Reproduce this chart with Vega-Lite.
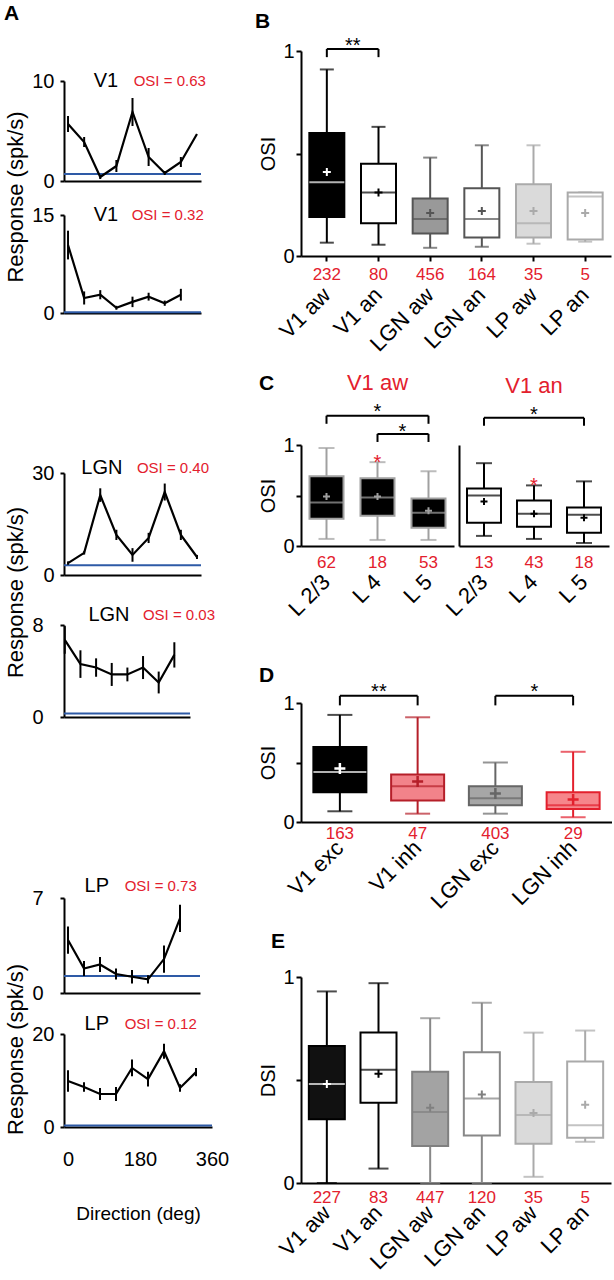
{
"$schema": "https://vega.github.io/schema/vega-lite/v6.json",
"padding": {"left": 4, "top": 2, "right": 0, "bottom": 0},
"config": {
  "font": "Liberation Sans",
  "view": {"stroke": null},
  "axis": {"grid": false, "domainColor": "#000000", "tickColor": "#000000", "labelColor": "#000000", "titleColor": "#000000", "domainWidth": 2, "tickWidth": 2, "titleFontWeight": "normal", "labelFont": "Liberation Sans", "titleFont": "Liberation Sans", "labelOverlap": false},
  "title": {"font": "Liberation Sans", "color": "#000000"},
  "text": {"font": "Liberation Sans"}
},
"datasets": {
  "v1a": [{"dir":0,"resp":5.7,"err":0.8},{"dir":40,"resp":3.9,"err":0.5},{"dir":80,"resp":0.4,"err":0.2},{"dir":120,"resp":1.5,"err":0.6},{"dir":160,"resp":6.9,"err":1.4},{"dir":200,"resp":2.4,"err":0.9},{"dir":240,"resp":0.8,"err":0.2},{"dir":280,"resp":1.9,"err":0.5},{"dir":320,"resp":4.7,"err":0}],
  "v1b": [{"dir":0,"resp":10.4,"err":2.2},{"dir":40,"resp":2.3,"err":1.0},{"dir":80,"resp":2.8,"err":0.7},{"dir":120,"resp":0.8,"err":0.3},{"dir":160,"resp":1.7,"err":0.8},{"dir":200,"resp":2.5,"err":0.6},{"dir":240,"resp":1.5,"err":0.4},{"dir":280,"resp":2.8,"err":0.9}],
  "lgna": [{"dir":0,"resp":3.5,"err":0.5},{"dir":40,"resp":6.5,"err":0.5},{"dir":80,"resp":23.5,"err":2.0},{"dir":120,"resp":11.8,"err":1.5},{"dir":160,"resp":5.9,"err":2.0},{"dir":200,"resp":10.9,"err":1.5},{"dir":240,"resp":24.4,"err":2.5},{"dir":280,"resp":11.8,"err":1.5},{"dir":320,"resp":5.3,"err":0.6}],
  "lgnb": [{"dir":0,"resp":6.7,"err":1.2},{"dir":40,"resp":4.6,"err":1.2},{"dir":80,"resp":4.3,"err":0.8},{"dir":120,"resp":3.7,"err":1.0},{"dir":160,"resp":3.7,"err":0.6},{"dir":200,"resp":4.3,"err":1.0},{"dir":240,"resp":3.0,"err":0.95},{"dir":280,"resp":5.4,"err":1.1}],
  "lpa": [{"dir":0,"resp":3.9,"err":1.0},{"dir":40,"resp":1.8,"err":0.55},{"dir":80,"resp":2.1,"err":0.55},{"dir":120,"resp":1.4,"err":0.4},{"dir":160,"resp":1.2,"err":0.5},{"dir":200,"resp":1.0,"err":0.3},{"dir":240,"resp":2.5,"err":1.0},{"dir":280,"resp":5.5,"err":1.0}],
  "lpb": [{"dir":0,"resp":9.9,"err":2.3},{"dir":40,"resp":8.6,"err":1.0},{"dir":80,"resp":7.1,"err":1.3},{"dir":120,"resp":7.1,"err":1.5},{"dir":160,"resp":12.7,"err":1.8},{"dir":200,"resp":10.3,"err":1.6},{"dir":240,"resp":16.3,"err":1.6},{"dir":280,"resp":8.4,"err":0.8},{"dir":320,"resp":11.8,"err":0.9}],
  "boxB": [
    {"g":"V1 aw","n":232,"lo":0.065,"q1":0.19,"med":0.36,"q3":0.60,"hi":0.91,"mean":0.41},
    {"g":"V1 an","n":80,"lo":0.055,"q1":0.16,"med":0.31,"q3":0.45,"hi":0.63,"mean":0.31},
    {"g":"LGN aw","n":456,"lo":0.04,"q1":0.11,"med":0.18,"q3":0.28,"hi":0.48,"mean":0.21},
    {"g":"LGN an","n":164,"lo":0.045,"q1":0.09,"med":0.18,"q3":0.33,"hi":0.54,"mean":0.22},
    {"g":"LP aw","n":35,"lo":0.06,"q1":0.09,"med":0.16,"q3":0.35,"hi":0.54,"mean":0.22},
    {"g":"LP an","n":5,"lo":0.07,"q1":0.08,"med":0.29,"q3":0.31,"hi":0.31,"mean":0.21}
  ],
  "boxC1": [
    {"g":"L 2/3","n":62,"lo":0.07,"q1":0.27,"med":0.43,"q3":0.69,"hi":0.97,"mean":0.49,"sig":""},
    {"g":"L 4","n":18,"lo":0.06,"q1":0.30,"med":0.48,"q3":0.67,"hi":0.83,"mean":0.49,"sig":"*"},
    {"g":"L 5","n":53,"lo":0.06,"q1":0.18,"med":0.33,"q3":0.47,"hi":0.74,"mean":0.35,"sig":""}
  ],
  "boxC2": [
    {"g":"L 2/3","n":13,"lo":0.10,"q1":0.23,"med":0.50,"q3":0.57,"hi":0.82,"mean":0.44,"sig":""},
    {"g":"L 4","n":43,"lo":0.07,"q1":0.19,"med":0.32,"q3":0.45,"hi":0.60,"mean":0.32,"sig":"*"},
    {"g":"L 5","n":18,"lo":0.03,"q1":0.13,"med":0.31,"q3":0.38,"hi":0.64,"mean":0.28,"sig":""}
  ],
  "boxD": [
    {"g":"V1 exc","n":163,"lo":0.09,"q1":0.25,"med":0.42,"q3":0.63,"hi":0.90,"mean":0.45},
    {"g":"V1 inh","n":47,"lo":0.07,"q1":0.18,"med":0.30,"q3":0.40,"hi":0.88,"mean":0.34},
    {"g":"LGN exc","n":403,"lo":0.07,"q1":0.14,"med":0.20,"q3":0.30,"hi":0.50,"mean":0.24},
    {"g":"LGN inh","n":29,"lo":0.04,"q1":0.11,"med":0.14,"q3":0.25,"hi":0.59,"mean":0.19}
  ],
  "boxE": [
    {"g":"V1 aw","n":227,"lo":0,"q1":0.31,"med":0.48,"q3":0.665,"hi":0.93,"mean":0.48},
    {"g":"V1 an","n":83,"lo":0.07,"q1":0.39,"med":0.55,"q3":0.73,"hi":0.97,"mean":0.53},
    {"g":"LGN aw","n":447,"lo":0,"q1":0.18,"med":0.345,"q3":0.54,"hi":0.80,"mean":0.365},
    {"g":"LGN an","n":120,"lo":0,"q1":0.23,"med":0.41,"q3":0.635,"hi":0.875,"mean":0.43},
    {"g":"LP aw","n":35,"lo":0.03,"q1":0.19,"med":0.33,"q3":0.49,"hi":0.73,"mean":0.34},
    {"g":"LP an","n":5,"lo":0.20,"q1":0.22,"med":0.28,"q3":0.59,"hi":0.74,"mean":0.38}
  ]
},
"spacing": 25,
"hconcat": [
{
  "spacing": 16,
  "vconcat": [
  {
    "width": 137, "height": 1,
    "title": {"text": "A", "anchor": "start", "fontSize": 21, "fontWeight": "bold", "offset": 25, "dx": -60},
    "data": {"values": [{"v": 0}]},
    "mark": {"type": "point", "opacity": 0},
    "encoding": {}
  },
  {
  "spacing": 134,
  "vconcat": [
  {
    "title": {"text": "Response (spk/s)", "orient": "left", "anchor": "middle", "fontSize": 22, "fontWeight": "normal", "offset": 4},
    "spacing": 14,
    "vconcat": [
    {
      "width": 137, "height": 100,
      "layer": [
        {"data": {"values": [{"base": 0.7}]}, "mark": {"type": "rule", "color": "#2e5aa6", "strokeWidth": 2}, "encoding": {"y": {"field": "base", "type": "quantitative", "scale": {"domain": [0, 10], "nice": false}, "axis": {"values": [0, 10], "labelFontSize": 20, "tickSize": 4, "labelPadding": 6, "title": null}}}},
        {"data": {"name": "v1a"}, "mark": {"type": "line", "color": "#000000", "strokeWidth": 2.2}, "encoding": {"x": {"field": "dir", "type": "quantitative", "scale": {"domain": [-10, 330], "nice": false, "zero": false}, "axis": {"labels": false, "ticks": false, "title": null}}, "y": {"field": "resp", "type": "quantitative", "title": null}}},
        {"data": {"name": "v1a"}, "mark": {"type": "errorbar", "color": "#000000", "thickness": 2}, "encoding": {"x": {"field": "dir", "type": "quantitative", "title": null}, "y": {"field": "resp", "type": "quantitative", "title": null}, "yError": {"field": "err"}}},
        {"data": {"values": [{"t": "V1"}]}, "mark": {"type": "text", "fontSize": 20, "baseline": "middle"}, "encoding": {"x": {"datum": 94}, "y": {"datum": 10}, "text": {"field": "t", "type": "nominal"}}},
        {"data": {"values": [{"t": "OSI = 0.63"}]}, "mark": {"type": "text", "fontSize": 15, "align": "right", "baseline": "middle", "color": "#e3202d"}, "encoding": {"x": {"datum": 342}, "y": {"datum": 10}, "text": {"field": "t", "type": "nominal"}}}
      ]
    },
    {
      "width": 137, "height": 98,
      "layer": [
        {"data": {"values": [{"base": 0.1}]}, "mark": {"type": "rule", "color": "#2e5aa6", "strokeWidth": 2}, "encoding": {"y": {"field": "base", "type": "quantitative", "scale": {"domain": [0, 15], "nice": false}, "axis": {"values": [0, 15], "labelFontSize": 20, "tickSize": 4, "labelPadding": 6, "title": null}}}},
        {"data": {"name": "v1b"}, "mark": {"type": "line", "color": "#000000", "strokeWidth": 2.2}, "encoding": {"x": {"field": "dir", "type": "quantitative", "scale": {"domain": [-10, 330], "nice": false, "zero": false}, "axis": {"labels": false, "ticks": false, "title": null}}, "y": {"field": "resp", "type": "quantitative", "title": null}}},
        {"data": {"name": "v1b"}, "mark": {"type": "errorbar", "color": "#000000", "thickness": 2}, "encoding": {"x": {"field": "dir", "type": "quantitative", "title": null}, "y": {"field": "resp", "type": "quantitative", "title": null}, "yError": {"field": "err"}}},
        {"data": {"values": [{"t": "V1"}]}, "mark": {"type": "text", "fontSize": 20, "baseline": "middle"}, "encoding": {"x": {"datum": 94}, "y": {"datum": 15}, "text": {"field": "t", "type": "nominal"}}},
        {"data": {"values": [{"t": "OSI = 0.32"}]}, "mark": {"type": "text", "fontSize": 15, "align": "right", "baseline": "middle", "color": "#e3202d"}, "encoding": {"x": {"datum": 337}, "y": {"datum": 15}, "text": {"field": "t", "type": "nominal"}}}
      ]
    }
    ]
  },
  {
    "spacing": 148,
    "vconcat": [
    {
      "title": {"text": "Response (spk/s)", "orient": "left", "anchor": "middle", "fontSize": 22, "fontWeight": "normal", "offset": 4},
      "spacing": 19,
      "vconcat": [
      {
        "width": 137, "height": 102,
        "layer": [
          {"data": {"values": [{"base": 2.9}]}, "mark": {"type": "rule", "color": "#2e5aa6", "strokeWidth": 2}, "encoding": {"y": {"field": "base", "type": "quantitative", "scale": {"domain": [0, 30], "nice": false}, "axis": {"values": [0, 30], "labelFontSize": 20, "tickSize": 4, "labelPadding": 6, "title": null}}}},
          {"data": {"name": "lgna"}, "mark": {"type": "line", "color": "#000000", "strokeWidth": 2.2}, "encoding": {"x": {"field": "dir", "type": "quantitative", "scale": {"domain": [-10, 330], "nice": false, "zero": false}, "axis": {"labels": false, "ticks": false, "title": null}}, "y": {"field": "resp", "type": "quantitative", "title": null}}},
          {"data": {"name": "lgna"}, "mark": {"type": "errorbar", "color": "#000000", "thickness": 2}, "encoding": {"x": {"field": "dir", "type": "quantitative", "title": null}, "y": {"field": "resp", "type": "quantitative", "title": null}, "yError": {"field": "err"}}},
          {"data": {"values": [{"t": "LGN"}]}, "mark": {"type": "text", "fontSize": 20, "baseline": "middle"}, "encoding": {"x": {"datum": 84}, "y": {"datum": 31.5}, "text": {"field": "t", "type": "nominal"}}},
          {"data": {"values": [{"t": "OSI = 0.40"}]}, "mark": {"type": "text", "fontSize": 15, "align": "right", "baseline": "middle", "color": "#e3202d"}, "encoding": {"x": {"datum": 350}, "y": {"datum": 31.5}, "text": {"field": "t", "type": "nominal"}}}
        ]
      },
      {
        "width": 126, "height": 92,
        "layer": [
          {"data": {"values": [{"base": 0.3}]}, "mark": {"type": "rule", "color": "#2e5aa6", "strokeWidth": 2}, "encoding": {"y": {"field": "base", "type": "quantitative", "scale": {"domain": [0, 8], "nice": false}, "axis": {"values": [0, 8], "labelFontSize": 20, "tickSize": 4, "labelPadding": 17, "title": null}}}},
          {"data": {"name": "lgnb"}, "mark": {"type": "line", "color": "#000000", "strokeWidth": 2.2}, "encoding": {"x": {"field": "dir", "type": "quantitative", "scale": {"domain": [-2, 320], "nice": false, "zero": false}, "axis": {"labels": false, "ticks": false, "title": null}}, "y": {"field": "resp", "type": "quantitative", "title": null}}},
          {"data": {"name": "lgnb"}, "mark": {"type": "errorbar", "color": "#000000", "thickness": 2}, "encoding": {"x": {"field": "dir", "type": "quantitative", "title": null}, "y": {"field": "resp", "type": "quantitative", "title": null}, "yError": {"field": "err"}}},
          {"data": {"values": [{"t": "LGN"}]}, "mark": {"type": "text", "fontSize": 20, "baseline": "middle"}, "encoding": {"x": {"datum": 113}, "y": {"datum": 8.9}, "text": {"field": "t", "type": "nominal"}}},
          {"data": {"values": [{"t": "OSI = 0.03"}]}, "mark": {"type": "text", "fontSize": 15, "align": "right", "baseline": "middle", "color": "#e3202d"}, "encoding": {"x": {"datum": 384}, "y": {"datum": 8.9}, "text": {"field": "t", "type": "nominal"}}}
        ]
      }
      ]
    },
    {
      "title": {"text": "Response (spk/s)", "orient": "left", "anchor": "middle", "fontSize": 22, "fontWeight": "normal", "offset": 4},
      "spacing": 10,
      "vconcat": [
      {
        "width": 136, "height": 95,
        "layer": [
          {"data": {"values": [{"base": 1.25}]}, "mark": {"type": "rule", "color": "#2e5aa6", "strokeWidth": 2}, "encoding": {"y": {"field": "base", "type": "quantitative", "scale": {"domain": [0, 7], "nice": false}, "axis": {"values": [0, 7], "labelFontSize": 20, "tickSize": 4, "labelPadding": 17, "title": null}}}},
          {"data": {"name": "lpa"}, "mark": {"type": "line", "color": "#000000", "strokeWidth": 2.2}, "encoding": {"x": {"field": "dir", "type": "quantitative", "scale": {"domain": [-10, 330], "nice": false, "zero": false}, "axis": {"labels": false, "ticks": false, "title": null}}, "y": {"field": "resp", "type": "quantitative", "title": null}}},
          {"data": {"name": "lpa"}, "mark": {"type": "errorbar", "color": "#000000", "thickness": 2}, "encoding": {"x": {"field": "dir", "type": "quantitative", "title": null}, "y": {"field": "resp", "type": "quantitative", "title": null}, "yError": {"field": "err"}}},
          {"data": {"values": [{"t": "LP"}]}, "mark": {"type": "text", "fontSize": 20, "baseline": "middle"}, "encoding": {"x": {"datum": 72}, "y": {"datum": 7.9}, "text": {"field": "t", "type": "nominal"}}},
          {"data": {"values": [{"t": "OSI = 0.73"}]}, "mark": {"type": "text", "fontSize": 15, "align": "right", "baseline": "middle", "color": "#e3202d"}, "encoding": {"x": {"datum": 322}, "y": {"datum": 7.9}, "text": {"field": "t", "type": "nominal"}}}
        ]
      },
      {
        "width": 148, "height": 93,
        "layer": [
          {"data": {"values": [{"base": 0.3}]}, "mark": {"type": "rule", "color": "#2e5aa6", "strokeWidth": 2}, "encoding": {"y": {"field": "base", "type": "quantitative", "scale": {"domain": [0, 20], "nice": false}, "axis": {"values": [0, 20], "labelFontSize": 20, "tickSize": 4, "labelPadding": 6, "title": null}}}},
          {"data": {"name": "lpb"}, "mark": {"type": "line", "color": "#000000", "strokeWidth": 2.2}, "encoding": {"x": {"field": "dir", "type": "quantitative", "scale": {"domain": [-10, 360], "nice": false, "zero": false}, "axis": {"values": [0, 180, 360], "labelFontSize": 20, "ticks": false, "labelPadding": 22, "labelFlush": false, "title": "Direction (deg)", "titleFontSize": 19, "titlePadding": 35}}, "y": {"field": "resp", "type": "quantitative", "title": null}}},
          {"data": {"name": "lpb"}, "mark": {"type": "errorbar", "color": "#000000", "thickness": 2}, "encoding": {"x": {"field": "dir", "type": "quantitative"}, "y": {"field": "resp", "type": "quantitative", "title": null}, "yError": {"field": "err"}}},
          {"data": {"values": [{"t": "LP"}]}, "mark": {"type": "text", "fontSize": 20, "baseline": "middle"}, "encoding": {"x": {"datum": 72}, "y": {"datum": 22.2}, "text": {"field": "t", "type": "nominal"}}},
          {"data": {"values": [{"t": "OSI = 0.12"}]}, "mark": {"type": "text", "fontSize": 15, "align": "right", "baseline": "middle", "color": "#e3202d"}, "encoding": {"x": {"datum": 322}, "y": {"datum": 22.2}, "text": {"field": "t", "type": "nominal"}}}
        ]
      }
      ]
    }
    ]
  }
  ]
  }
  ]
},
{
  "spacing": 43,
  "vconcat": [
  {
    "spacing": 16,
    "vconcat": [
    {
      "width": 310, "height": 205,
      "title": {"text": "B", "anchor": "start", "fontSize": 21, "fontWeight": "bold", "offset": 4, "dx": -4},
      "data": {"name": "boxB"},
      "resolve": {"scale": {"color": "independent", "fill": "independent", "stroke": "independent"}},
      "encoding": {"x": {"field": "g", "type": "nominal", "title": null, "scale": {"type": "band", "domain": ["V1 aw","V1 an","LGN aw","LGN an","LP aw","LP an"], "paddingInner": 0, "paddingOuter": 0}, "axis": {"title": null, "labelAngle": -45, "labelAlign": "right", "labelBaseline": "middle", "labelFontSize": 22, "labelPadding": 30, "tickSize": 5}}},
      "layer": [
        {"mark": {"type": "rule", "strokeWidth": 2}, "encoding": {"y": {"field": "lo", "type": "quantitative", "scale": {"domain": [0, 1], "nice": false}, "axis": {"title": "OSI", "values": [0, 0.5, 1], "format": "~g", "labelExpr": "datum.value == 0.5 ? '' : datum.label", "labelFontSize": 20, "tickSize": 5, "titleFontSize": 20, "titlePadding": 4}}, "y2": {"field": "hi"}, "color": {"field": "g", "type": "nominal", "legend": null, "scale": {"domain": ["V1 aw","V1 an","LGN aw","LGN an","LP aw","LP an"], "range": ["#000000","#000000","#555555","#555555","#aaaaaa","#aaaaaa"]}}}},
        {"mark": {"type": "tick", "thickness": 2, "size": 14}, "encoding": {"y": {"field": "lo", "type": "quantitative"}, "color": {"field": "g", "type": "nominal", "legend": null, "scale": {"domain": ["V1 aw","V1 an","LGN aw","LGN an","LP aw","LP an"], "range": ["#000000","#000000","#555555","#555555","#aaaaaa","#aaaaaa"]}}}},
        {"mark": {"type": "tick", "thickness": 2, "size": 14}, "encoding": {"y": {"field": "hi", "type": "quantitative"}, "color": {"field": "g", "type": "nominal", "legend": null, "scale": {"domain": ["V1 aw","V1 an","LGN aw","LGN an","LP aw","LP an"], "range": ["#000000","#000000","#555555","#555555","#aaaaaa","#aaaaaa"]}}}},
        {"mark": {"type": "bar", "size": 35, "strokeWidth": 2}, "encoding": {"y": {"field": "q1", "type": "quantitative"}, "y2": {"field": "q3"}, "fill": {"field": "g", "type": "nominal", "legend": null, "scale": {"domain": ["V1 aw","V1 an","LGN aw","LGN an","LP aw","LP an"], "range": ["#000000","#ffffff","#999999","#ffffff","#dadada","#ffffff"]}}, "stroke": {"field": "g", "type": "nominal", "legend": null, "scale": {"domain": ["V1 aw","V1 an","LGN aw","LGN an","LP aw","LP an"], "range": ["#000000","#000000","#555555","#555555","#aaaaaa","#aaaaaa"]}}}},
        {"mark": {"type": "tick", "thickness": 2, "size": 35}, "encoding": {"y": {"field": "med", "type": "quantitative"}, "color": {"field": "g", "type": "nominal", "legend": null, "scale": {"domain": ["V1 aw","V1 an","LGN aw","LGN an","LP aw","LP an"], "range": ["#ffffff","#000000","#555555","#555555","#aaaaaa","#aaaaaa"]}}}},
        {"mark": {"type": "point", "shape": "M-1,0H1M0,-1V1", "filled": false, "size": 64, "strokeWidth": 2, "opacity": 1}, "encoding": {"y": {"field": "mean", "type": "quantitative"}, "color": {"field": "g", "type": "nominal", "legend": null, "scale": {"domain": ["V1 aw","V1 an","LGN aw","LGN an","LP aw","LP an"], "range": ["#ffffff","#000000","#555555","#555555","#aaaaaa","#aaaaaa"]}}}},
        {"mark": {"type": "text", "dy": 19, "fontSize": 17, "color": "#e3202d", "baseline": "middle"}, "encoding": {"y": {"datum": 0}, "text": {"field": "n", "type": "nominal"}}},
        {"data": {"values": [{"a": "V1 aw", "b": "V1 an", "y": 1.01}]}, "mark": {"type": "rule", "strokeWidth": 2, "color": "#000000"}, "encoding": {"x": {"field": "a", "type": "nominal", "title": null, "bandPosition": 0.5}, "x2": {"field": "b", "bandPosition": 0.5}, "y": {"field": "y", "type": "quantitative"}}},
        {"data": {"values": [{"c": "V1 aw", "y": 1.01, "ylo": 0.97}, {"c": "V1 an", "y": 1.01, "ylo": 0.97}]}, "mark": {"type": "rule", "strokeWidth": 2, "color": "#000000"}, "encoding": {"x": {"field": "c", "type": "nominal", "title": null}, "y": {"field": "y", "type": "quantitative"}, "y2": {"field": "ylo"}}},
        {"data": {"values": [{"c": "V1 aw", "y": 1.01, "lab": "**"}]}, "mark": {"type": "text", "dx": 26, "dy": 3, "fontSize": 20, "baseline": "alphabetic", "color": "#000000"}, "encoding": {"x": {"field": "c", "type": "nominal", "title": null}, "y": {"field": "y", "type": "quantitative"}, "text": {"field": "lab", "type": "nominal"}}}
      ]
    },
    {
      "title": {"text": "C", "anchor": "start", "fontSize": 21, "fontWeight": "bold", "offset": -22},
      "spacing": -13,
      "hconcat": [
      {
        "width": 153, "height": 101,
        "title": {"text": "V1 aw", "color": "#e3202d", "fontSize": 22, "fontWeight": "normal", "offset": 7},
        "data": {"name": "boxC1"},
        "encoding": {"x": {"field": "g", "type": "nominal", "title": null, "scale": {"type": "band", "domain": ["L 2/3","L 4","L 5"], "paddingInner": 0, "paddingOuter": 0}, "axis": {"title": null, "labelAngle": -45, "labelAlign": "right", "labelBaseline": "middle", "labelFontSize": 22, "labelPadding": 32, "ticks": false}}},
        "layer": [
          {"mark": {"type": "rule", "strokeWidth": 2, "color": "#a0a0a0"}, "encoding": {"y": {"field": "lo", "type": "quantitative", "scale": {"domain": [0, 1], "nice": false}, "axis": {"title": "OSI", "values": [0, 0.5, 1], "format": "~g", "labelExpr": "datum.value == 0.5 ? '' : datum.label", "labelFontSize": 20, "tickSize": 5, "titleFontSize": 20, "titlePadding": 4}}, "y2": {"field": "hi"}}},
          {"mark": {"type": "tick", "thickness": 2, "size": 16, "color": "#a0a0a0"}, "encoding": {"y": {"field": "lo", "type": "quantitative"}}},
          {"mark": {"type": "tick", "thickness": 2, "size": 16, "color": "#a0a0a0"}, "encoding": {"y": {"field": "hi", "type": "quantitative"}}},
          {"mark": {"type": "bar", "size": 34, "strokeWidth": 2, "fill": "#000000", "stroke": "#a0a0a0"}, "encoding": {"y": {"field": "q1", "type": "quantitative"}, "y2": {"field": "q3"}}},
          {"mark": {"type": "tick", "thickness": 2, "size": 34, "color": "#a0a0a0"}, "encoding": {"y": {"field": "med", "type": "quantitative"}}},
          {"mark": {"type": "point", "shape": "M-1,0H1M0,-1V1", "filled": false, "size": 49, "strokeWidth": 2, "opacity": 1, "color": "#a0a0a0"}, "encoding": {"y": {"field": "mean", "type": "quantitative"}}},
          {"mark": {"type": "text", "dy": 17, "fontSize": 17, "color": "#e3202d", "baseline": "middle"}, "encoding": {"y": {"datum": 0}, "text": {"field": "n", "type": "nominal"}}},
          {"mark": {"type": "text", "dy": 7, "fontSize": 20, "color": "#e3202d", "baseline": "alphabetic"}, "encoding": {"y": {"field": "hi", "type": "quantitative"}, "text": {"field": "sig", "type": "nominal"}}},
          {"data": {"values": [{"a": "L 2/3", "b": "L 5", "y": 1.29}, {"a": "L 4", "b": "L 5", "y": 1.11}]}, "mark": {"type": "rule", "strokeWidth": 2, "color": "#000000"}, "encoding": {"x": {"field": "a", "type": "nominal", "title": null, "bandPosition": 0.5}, "x2": {"field": "b", "bandPosition": 0.5}, "y": {"field": "y", "type": "quantitative"}}},
          {"data": {"values": [{"c": "L 2/3", "y": 1.29, "ylo": 1.21}, {"c": "L 5", "y": 1.29, "ylo": 1.21}, {"c": "L 4", "y": 1.11, "ylo": 1.03}, {"c": "L 5", "y": 1.11, "ylo": 1.03}]}, "mark": {"type": "rule", "strokeWidth": 2, "color": "#000000"}, "encoding": {"x": {"field": "c", "type": "nominal", "title": null}, "y": {"field": "y", "type": "quantitative"}, "y2": {"field": "ylo"}}},
          {"data": {"values": [{"c": "L 4", "y": 1.29, "lab": "*"}]}, "mark": {"type": "text", "dy": 2, "fontSize": 20, "baseline": "alphabetic", "color": "#000000"}, "encoding": {"x": {"field": "c", "type": "nominal", "title": null}, "y": {"field": "y", "type": "quantitative"}, "text": {"field": "lab", "type": "nominal"}}},
          {"data": {"values": [{"c": "L 4", "y": 1.11, "lab": "*"}]}, "mark": {"type": "text", "dx": 25, "dy": 4, "fontSize": 20, "baseline": "alphabetic", "color": "#000000"}, "encoding": {"x": {"field": "c", "type": "nominal", "title": null}, "y": {"field": "y", "type": "quantitative"}, "text": {"field": "lab", "type": "nominal"}}}
        ]
      },
      {
        "width": 150, "height": 101,
        "title": {"text": "V1 an", "color": "#e3202d", "fontSize": 22, "fontWeight": "normal", "offset": 7},
        "data": {"name": "boxC2"},
        "encoding": {"x": {"field": "g", "type": "nominal", "title": null, "scale": {"type": "band", "domain": ["L 2/3","L 4","L 5"], "paddingInner": 0, "paddingOuter": 0}, "axis": {"title": null, "labelAngle": -45, "labelAlign": "right", "labelBaseline": "middle", "labelFontSize": 22, "labelPadding": 32, "ticks": false}}},
        "layer": [
          {"mark": {"type": "rule", "strokeWidth": 2, "color": "#000000"}, "encoding": {"y": {"field": "lo", "type": "quantitative", "scale": {"domain": [0, 1], "nice": false}, "axis": {"title": null, "labels": false, "ticks": false, "minExtent": 0}}, "y2": {"field": "hi"}}},
          {"mark": {"type": "tick", "thickness": 2, "size": 16, "color": "#000000"}, "encoding": {"y": {"field": "lo", "type": "quantitative"}}},
          {"mark": {"type": "tick", "thickness": 2, "size": 16, "color": "#000000"}, "encoding": {"y": {"field": "hi", "type": "quantitative"}}},
          {"mark": {"type": "bar", "size": 34, "strokeWidth": 2, "fill": "#ffffff", "stroke": "#000000"}, "encoding": {"y": {"field": "q1", "type": "quantitative"}, "y2": {"field": "q3"}}},
          {"mark": {"type": "tick", "thickness": 2, "size": 34, "color": "#000000"}, "encoding": {"y": {"field": "med", "type": "quantitative"}}},
          {"mark": {"type": "point", "shape": "M-1,0H1M0,-1V1", "filled": false, "size": 49, "strokeWidth": 2, "opacity": 1, "color": "#000000"}, "encoding": {"y": {"field": "mean", "type": "quantitative"}}},
          {"mark": {"type": "text", "dy": 17, "fontSize": 17, "color": "#e3202d", "baseline": "middle"}, "encoding": {"y": {"datum": 0}, "text": {"field": "n", "type": "nominal"}}},
          {"mark": {"type": "text", "dy": 7, "fontSize": 20, "color": "#e3202d", "baseline": "alphabetic"}, "encoding": {"y": {"field": "hi", "type": "quantitative"}, "text": {"field": "sig", "type": "nominal"}}},
          {"data": {"values": [{"a": "L 2/3", "b": "L 5", "y": 1.27}]}, "mark": {"type": "rule", "strokeWidth": 2, "color": "#000000"}, "encoding": {"x": {"field": "a", "type": "nominal", "title": null, "bandPosition": 0.5}, "x2": {"field": "b", "bandPosition": 0.5}, "y": {"field": "y", "type": "quantitative"}}},
          {"data": {"values": [{"c": "L 2/3", "y": 1.27, "ylo": 1.19}, {"c": "L 5", "y": 1.27, "ylo": 1.19}]}, "mark": {"type": "rule", "strokeWidth": 2, "color": "#000000"}, "encoding": {"x": {"field": "c", "type": "nominal", "title": null}, "y": {"field": "y", "type": "quantitative"}, "y2": {"field": "ylo"}}},
          {"data": {"values": [{"c": "L 4", "y": 1.27, "lab": "*"}]}, "mark": {"type": "text", "dy": 3, "fontSize": 20, "baseline": "alphabetic", "color": "#000000"}, "encoding": {"x": {"field": "c", "type": "nominal", "title": null}, "y": {"field": "y", "type": "quantitative"}, "text": {"field": "lab", "type": "nominal"}}}
        ]
      }
      ]
    }
    ]
  },
  {
    "spacing": 18,
    "vconcat": [
    {
      "width": 311, "height": 119,
      "title": {"text": "D", "anchor": "start", "fontSize": 21, "fontWeight": "bold", "offset": -4},
      "data": {"name": "boxD"},
      "resolve": {"scale": {"color": "independent", "fill": "independent", "stroke": "independent"}},
      "encoding": {"x": {"field": "g", "type": "nominal", "title": null, "scale": {"type": "band", "domain": ["V1 exc","V1 inh","LGN exc","LGN inh"], "paddingInner": 0, "paddingOuter": 0}, "axis": {"title": null, "labelAngle": -45, "labelAlign": "right", "labelBaseline": "middle", "labelFontSize": 22, "labelPadding": 22, "ticks": false}}},
      "layer": [
        {"mark": {"type": "rule", "strokeWidth": 2}, "encoding": {"y": {"field": "lo", "type": "quantitative", "scale": {"domain": [0, 1], "nice": false}, "axis": {"title": "OSI", "values": [0, 0.5, 1], "format": "~g", "labelExpr": "datum.value == 0.5 ? '' : datum.label", "labelFontSize": 20, "tickSize": 5, "titleFontSize": 20, "titlePadding": 4}}, "y2": {"field": "hi"}, "color": {"field": "g", "type": "nominal", "legend": null, "scale": {"domain": ["V1 exc","V1 inh","LGN exc","LGN inh"], "range": ["#000000","#b51f29","#666666","#e3202d"]}}}},
        {"mark": {"type": "tick", "thickness": 2, "size": 25}, "encoding": {"y": {"field": "lo", "type": "quantitative"}, "color": {"field": "g", "type": "nominal", "legend": null, "scale": {"domain": ["V1 exc","V1 inh","LGN exc","LGN inh"], "range": ["#000000","#b51f29","#666666","#e3202d"]}}}},
        {"mark": {"type": "tick", "thickness": 2, "size": 25}, "encoding": {"y": {"field": "hi", "type": "quantitative"}, "color": {"field": "g", "type": "nominal", "legend": null, "scale": {"domain": ["V1 exc","V1 inh","LGN exc","LGN inh"], "range": ["#000000","#b51f29","#666666","#e3202d"]}}}},
        {"mark": {"type": "bar", "size": 53, "strokeWidth": 2}, "encoding": {"y": {"field": "q1", "type": "quantitative"}, "y2": {"field": "q3"}, "fill": {"field": "g", "type": "nominal", "legend": null, "scale": {"domain": ["V1 exc","V1 inh","LGN exc","LGN inh"], "range": ["#000000","#f2838a","#a6a6a6","#f6868b"]}}, "stroke": {"field": "g", "type": "nominal", "legend": null, "scale": {"domain": ["V1 exc","V1 inh","LGN exc","LGN inh"], "range": ["#000000","#b51f29","#666666","#e3202d"]}}}},
        {"mark": {"type": "tick", "thickness": 2, "size": 53}, "encoding": {"y": {"field": "med", "type": "quantitative"}, "color": {"field": "g", "type": "nominal", "legend": null, "scale": {"domain": ["V1 exc","V1 inh","LGN exc","LGN inh"], "range": ["#ffffff","#b51f29","#666666","#e3202d"]}}}},
        {"mark": {"type": "point", "shape": "M-1,0H1M0,-1V1", "filled": false, "size": 121, "strokeWidth": 2.5, "opacity": 1}, "encoding": {"y": {"field": "mean", "type": "quantitative"}, "color": {"field": "g", "type": "nominal", "legend": null, "scale": {"domain": ["V1 exc","V1 inh","LGN exc","LGN inh"], "range": ["#ffffff","#b51f29","#666666","#e3202d"]}}}},
        {"mark": {"type": "text", "dy": 12, "fontSize": 17, "color": "#e3202d", "baseline": "middle"}, "encoding": {"y": {"datum": 0}, "text": {"field": "n", "type": "nominal"}}},
        {"data": {"values": [{"a": "V1 exc", "b": "V1 inh", "y": 1.06}, {"a": "LGN exc", "b": "LGN inh", "y": 1.06}]}, "mark": {"type": "rule", "strokeWidth": 2, "color": "#000000"}, "encoding": {"x": {"field": "a", "type": "nominal", "title": null, "bandPosition": 0.5}, "x2": {"field": "b", "bandPosition": 0.5}, "y": {"field": "y", "type": "quantitative"}}},
        {"data": {"values": [{"c": "V1 exc", "y": 1.06, "ylo": 0.98}, {"c": "V1 inh", "y": 1.06, "ylo": 0.98}, {"c": "LGN exc", "y": 1.06, "ylo": 0.98}, {"c": "LGN inh", "y": 1.06, "ylo": 0.98}]}, "mark": {"type": "rule", "strokeWidth": 2, "color": "#000000"}, "encoding": {"x": {"field": "c", "type": "nominal", "title": null}, "y": {"field": "y", "type": "quantitative"}, "y2": {"field": "ylo"}}},
        {"data": {"values": [{"c": "V1 exc", "y": 1.06, "lab": "**"}, {"c": "LGN exc", "y": 1.06, "lab": "*"}]}, "mark": {"type": "text", "dx": 39, "dy": 2, "fontSize": 20, "baseline": "alphabetic", "color": "#000000"}, "encoding": {"x": {"field": "c", "type": "nominal", "title": null}, "y": {"field": "y", "type": "quantitative"}, "text": {"field": "lab", "type": "nominal"}}}
      ]
    },
    {
      "width": 310, "height": 206,
      "title": {"text": "E", "anchor": "start", "fontSize": 21, "fontWeight": "bold", "offset": 15, "dx": 12},
      "data": {"name": "boxE"},
      "resolve": {"scale": {"color": "independent", "fill": "independent", "stroke": "independent"}},
      "encoding": {"x": {"field": "g", "type": "nominal", "title": null, "scale": {"type": "band", "domain": ["V1 aw","V1 an","LGN aw","LGN an","LP aw","LP an"], "paddingInner": 0, "paddingOuter": 0}, "axis": {"title": null, "labelAngle": -45, "labelAlign": "right", "labelBaseline": "middle", "labelFontSize": 22, "labelPadding": 26, "ticks": false}}},
      "layer": [
        {"mark": {"type": "rule", "strokeWidth": 2}, "encoding": {"y": {"field": "lo", "type": "quantitative", "scale": {"domain": [0, 1], "nice": false}, "axis": {"title": "DSI", "values": [0, 0.5, 1], "format": "~g", "labelExpr": "datum.value == 0.5 ? '' : datum.label", "labelFontSize": 20, "tickSize": 5, "titleFontSize": 20, "titlePadding": 4}}, "y2": {"field": "hi"}, "color": {"field": "g", "type": "nominal", "legend": null, "scale": {"domain": ["V1 aw","V1 an","LGN aw","LGN an","LP aw","LP an"], "range": ["#000000","#000000","#888888","#888888","#aaaaaa","#aaaaaa"]}}}},
        {"mark": {"type": "tick", "thickness": 2, "size": 20}, "encoding": {"y": {"field": "lo", "type": "quantitative"}, "color": {"field": "g", "type": "nominal", "legend": null, "scale": {"domain": ["V1 aw","V1 an","LGN aw","LGN an","LP aw","LP an"], "range": ["#000000","#000000","#888888","#888888","#aaaaaa","#aaaaaa"]}}}},
        {"mark": {"type": "tick", "thickness": 2, "size": 20}, "encoding": {"y": {"field": "hi", "type": "quantitative"}, "color": {"field": "g", "type": "nominal", "legend": null, "scale": {"domain": ["V1 aw","V1 an","LGN aw","LGN an","LP aw","LP an"], "range": ["#000000","#000000","#888888","#888888","#aaaaaa","#aaaaaa"]}}}},
        {"mark": {"type": "bar", "size": 36, "strokeWidth": 2}, "encoding": {"y": {"field": "q1", "type": "quantitative"}, "y2": {"field": "q3"}, "fill": {"field": "g", "type": "nominal", "legend": null, "scale": {"domain": ["V1 aw","V1 an","LGN aw","LGN an","LP aw","LP an"], "range": ["#111111","#ffffff","#a3a3a3","#ffffff","#dadada","#ffffff"]}}, "stroke": {"field": "g", "type": "nominal", "legend": null, "scale": {"domain": ["V1 aw","V1 an","LGN aw","LGN an","LP aw","LP an"], "range": ["#000000","#000000","#808080","#888888","#aaaaaa","#aaaaaa"]}}}},
        {"mark": {"type": "tick", "thickness": 2, "size": 36}, "encoding": {"y": {"field": "med", "type": "quantitative"}, "color": {"field": "g", "type": "nominal", "legend": null, "scale": {"domain": ["V1 aw","V1 an","LGN aw","LGN an","LP aw","LP an"], "range": ["#ffffff","#000000","#808080","#808080","#aaaaaa","#aaaaaa"]}}}},
        {"mark": {"type": "point", "shape": "M-1,0H1M0,-1V1", "filled": false, "size": 64, "strokeWidth": 2, "opacity": 1}, "encoding": {"y": {"field": "mean", "type": "quantitative"}, "color": {"field": "g", "type": "nominal", "legend": null, "scale": {"domain": ["V1 aw","V1 an","LGN aw","LGN an","LP aw","LP an"], "range": ["#ffffff","#000000","#808080","#808080","#aaaaaa","#aaaaaa"]}}}},
        {"mark": {"type": "text", "dy": 15, "fontSize": 17, "color": "#e3202d", "baseline": "middle"}, "encoding": {"y": {"datum": 0}, "text": {"field": "n", "type": "nominal"}}}
      ]
    }
    ]
  }
  ]
}
]
}
